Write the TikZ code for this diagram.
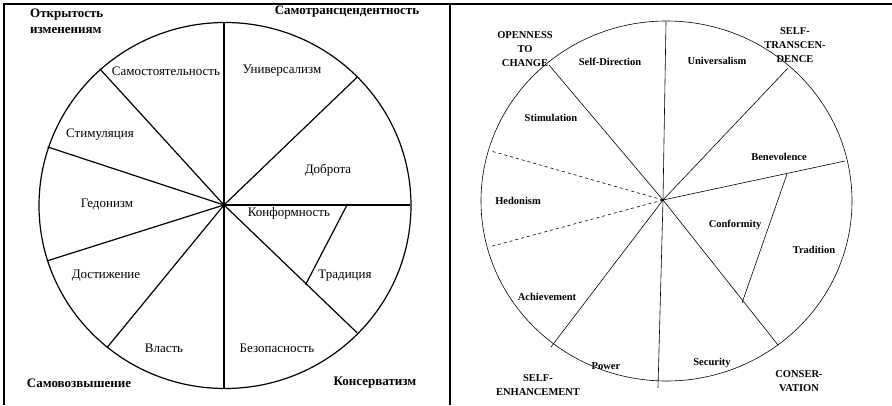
\documentclass[tikz,border=0pt]{standalone}
\usepackage{fontspec}
\setmainfont{Liberation Serif}
\usetikzlibrary{positioning}

\begin{document}
\begin{tikzpicture}[x=1pt, y=1pt,
  lab/.style={text centered, inner sep=0pt, font=\fontsize{13}{13}\selectfont},
  corner/.style={inner sep=0pt, font=\bfseries\fontsize{13}{16}\selectfont},
  elab/.style={text centered, inner sep=0pt, font=\bfseries\fontsize{10.5}{11}\selectfont},
  ecorner/.style={align=center, inner sep=0pt, font=\bfseries\fontsize{10.5}{14}\selectfont},
  spoke/.style={line width=1.2},
  espoke/.style={line width=0.6}]
\useasboundingbox (0,0) rectangle (892,405);

% frame %
\draw[line width=2] (4,0) -- (4,401) -- (892,401);
\draw[line width=2] (450,401) -- (450,0);

% left wheel %
\coordinate (lc) at (224,200);
\draw[spoke] (225,199.5) ellipse [x radius=186, y radius=183];
\foreach \a in {0,44.3,90,131.9,161.5,197.8,231.1,270,315.7}
  \draw[spoke] (lc) -- ++(\a:186 and 183);
\draw[spoke] ([shift={(0:123)}]lc) -- ([shift={(315.7:114)}]lc);

% left labels %
\node[lab] (samost) at (166,334) {Самостоятельность};
\node[lab] (univ) at (282,334) {Универсализм};
\node[lab] (stim) at (100,270) {Стимуляция};
\node[lab] (dobr) at (328,235) {Доброта};
\node[lab] (gedon) at (107,200) {Гедонизм};
\node[lab] (konf) at (289,192) {Конформность};
\node[lab] (dost) at (106,129) {Достижение};
\node[lab] (trad) at (345,129) {Традиция};
\node[lab] (vlast) at (164,57) {Власть};
\node[lab] (bezop) at (277,57) {Безопасность};

\node[corner, align=left, anchor=west] (otkr) at (30,384) {Открытость\\изменениям};
\node[corner] (samotr) at (347,393) {Самотрансцендентность};
\node[corner] (samovoz) at (79,22) {Самовозвышение};
\node[corner] (konserv) at (375,22) {Консерватизм};

% right wheel %
\coordinate (rc) at (663,205);
\draw[espoke] (666.5,204) ellipse [x radius=185.5, y radius=180];
\foreach \p in {(666,383),(658,17),(549,340),(551,58),(788,337),(845,244),(778,60)}
  \draw[espoke] (rc) -- \p;
\foreach \p in {(491,254),(489,158)}
  \draw[espoke, dashed] (rc) -- \p;
\draw[espoke] (787,231) -- (742,102);

% right labels %
\node[elab] (selfdir) at (610,343) {Self-Direction};
\node[elab] (univers) at (717,344) {Universalism};
\node[elab] (stimul) at (551,287) {Stimulation};
\node[elab] (benev) at (779,248) {Benevolence};
\node[elab] (hedon) at (518,204) {Hedonism};
\node[elab] (conform) at (735,180) {Conformity};
\node[elab] (tradit) at (814,155) {Tradition};
\node[elab] (achiev) at (547,108) {Achievement};
\node[elab] (power) at (606,39) {Power};
\node[elab] (secur) at (712,42) {Security};

\node[ecorner] (open) at (525,356) {OPENNESS\\TO\\CHANGE};
\node[ecorner] (selftr) at (795,360) {SELF-\\TRANSCEN-\\DENCE};
\node[ecorner] (selfen) at (538,19.5) {SELF-\\ENHANCEMENT};
\node[ecorner] (conser) at (799,24) {CONSER-\\VATION};

\end{tikzpicture}
\end{document}
